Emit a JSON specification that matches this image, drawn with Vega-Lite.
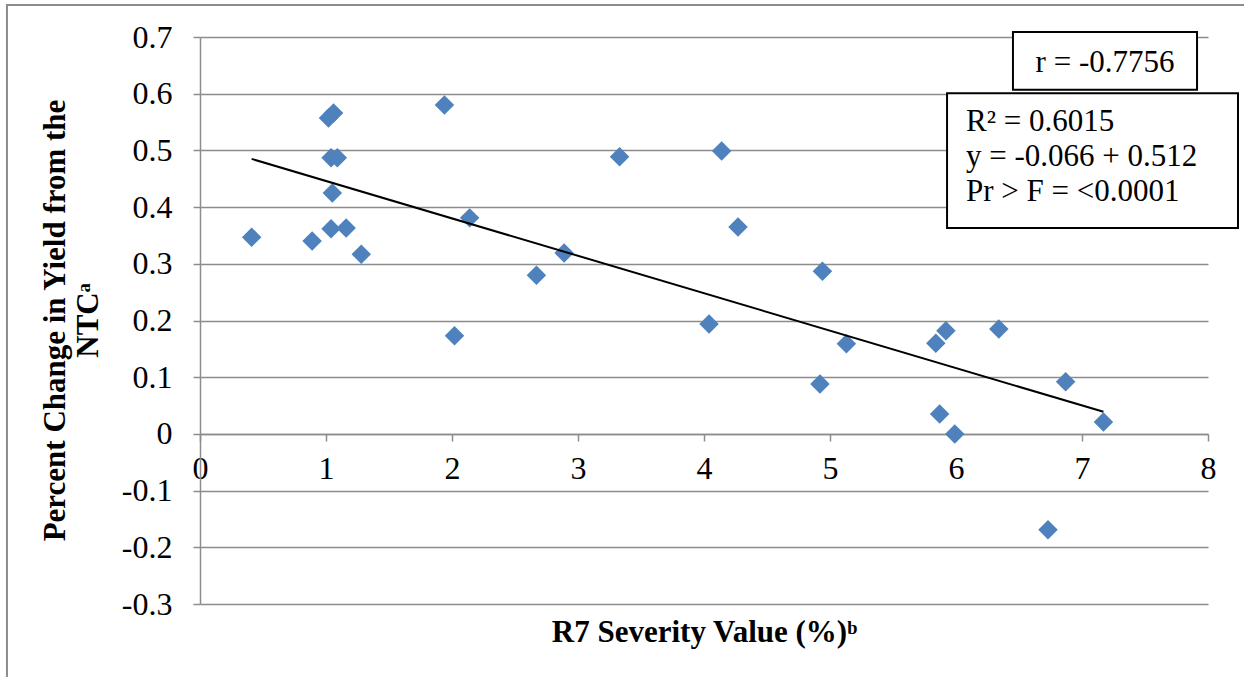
{
  "$schema": "https://vega.github.io/schema/vega-lite/v6.json",
  "width": 1008,
  "height": 567,
  "autosize": "none",
  "padding": {"left": 200, "top": 37, "right": 36, "bottom": 73},
  "background": "white",
  "config": {"view": {"stroke": null}, "font": "Liberation Serif"},
  "datasets": {
    "points": [
      {"severity": 0.41, "change": 0.347},
      {"severity": 0.89, "change": 0.340},
      {"severity": 1.02, "change": 0.557},
      {"severity": 1.06, "change": 0.566},
      {"severity": 1.04, "change": 0.487},
      {"severity": 1.09, "change": 0.487},
      {"severity": 1.05, "change": 0.425},
      {"severity": 1.04, "change": 0.362},
      {"severity": 1.16, "change": 0.363},
      {"severity": 1.28, "change": 0.317},
      {"severity": 1.94, "change": 0.580},
      {"severity": 2.02, "change": 0.173},
      {"severity": 2.14, "change": 0.381},
      {"severity": 2.67, "change": 0.280},
      {"severity": 2.89, "change": 0.319},
      {"severity": 3.33, "change": 0.489},
      {"severity": 4.04, "change": 0.194},
      {"severity": 4.14, "change": 0.499},
      {"severity": 4.27, "change": 0.365},
      {"severity": 4.94, "change": 0.287},
      {"severity": 4.92, "change": 0.088},
      {"severity": 5.13, "change": 0.159},
      {"severity": 5.84, "change": 0.160},
      {"severity": 5.92, "change": 0.182},
      {"severity": 5.87, "change": 0.035},
      {"severity": 5.99, "change": 0.000},
      {"severity": 6.34, "change": 0.185},
      {"severity": 6.87, "change": 0.092},
      {"severity": 6.73, "change": -0.169},
      {"severity": 7.17, "change": 0.021}
    ],
    "trend": [
      {"severity": 0.41, "change": 0.485},
      {"severity": 7.17, "change": 0.039}
    ],
    "rbox": [{"label": "r = -0.7756"}],
    "statbox": [{"label": ["R² = 0.6015", "y = -0.066 + 0.512", "Pr > F = <0.0001"]}],
    "frame": [{"name": "frame"}]
  },
  "layer": [
    {
      "data": {"name": "points"},
      "mark": {"type": "point", "shape": "diamond", "filled": true, "color": "#4F81BD", "size": 380, "opacity": 1},
      "encoding": {
        "x": {
          "field": "severity",
          "type": "quantitative",
          "scale": {"domain": [0, 8], "nice": false, "zero": false},
          "axis": {
            "values": [0, 1, 2, 3, 4, 5, 6, 7, 8],
            "format": "d",
            "offset": -170,
            "grid": false,
            "domainColor": "#8c8c8c",
            "domainWidth": 1.5,
            "tickColor": "#8c8c8c",
            "tickWidth": 1.5,
            "tickSize": 7,
            "labelFont": "Liberation Serif",
            "labelFontSize": 32,
            "labelColor": "black",
            "labelPadding": 12,
            "labelFlush": false,
            "labelOverlap": false,
            "title": "R7 Severity Value (%)ᵇ",
            "titleFont": "Liberation Serif",
            "titleFontSize": 31,
            "titleFontWeight": "bold",
            "titleColor": "black",
            "titleY": 198,
            "titleBaseline": "middle"
          }
        },
        "y": {
          "field": "change",
          "type": "quantitative",
          "scale": {"domain": [-0.3, 0.7], "nice": false, "zero": false},
          "axis": {
            "values": [-0.3, -0.2, -0.1, 0, 0.1, 0.2, 0.3, 0.4, 0.5, 0.6, 0.7],
            "format": ".1~f",
            "labelExpr": "replace(datum.label, '−', '-')",
            "grid": true,
            "gridColor": "#8c8c8c",
            "gridWidth": 1.5,
            "domainColor": "#8c8c8c",
            "domainWidth": 1.5,
            "tickColor": "#8c8c8c",
            "tickWidth": 1.5,
            "tickSize": 7,
            "labelFont": "Liberation Serif",
            "labelFontSize": 32,
            "labelColor": "black",
            "labelPadding": 21,
            "labelOverlap": false,
            "title": ["Percent Change in Yield from the", "NTCᵃ"],
            "titleFont": "Liberation Serif",
            "titleFontSize": 31,
            "titleFontWeight": "bold",
            "titleColor": "black",
            "titleLineHeight": 33,
            "titleX": -145,
            "titleY": 283,
            "titleBaseline": "middle",
            "titleAngle": -90
          }
        }
      }
    },
    {
      "data": {"name": "frame"},
      "mark": {"type": "rect", "fill": null, "stroke": "#8c8c8c", "strokeWidth": 2},
      "encoding": {
        "x": {"datum": -1.532},
        "x2": {"datum": 8.6},
        "y": {"datum": 0.7566},
        "y2": {"datum": -0.5}
      }
    },
    {
      "data": {"name": "trend"},
      "mark": {"type": "line", "color": "black", "strokeWidth": 2},
      "encoding": {
        "x": {"field": "severity", "type": "quantitative"},
        "y": {"field": "change", "type": "quantitative"}
      }
    },
    {
      "data": {"name": "rbox"},
      "mark": {"type": "rect", "fill": "white", "stroke": "black", "strokeWidth": 2},
      "encoding": {
        "x": {"datum": 6.452},
        "x2": {"datum": 7.913},
        "y": {"datum": 0.709},
        "y2": {"datum": 0.607}
      }
    },
    {
      "data": {"name": "statbox"},
      "mark": {"type": "rect", "fill": "white", "stroke": "black", "strokeWidth": 2},
      "encoding": {
        "x": {"datum": 5.929},
        "x2": {"datum": 8.238},
        "y": {"datum": 0.601},
        "y2": {"datum": 0.363}
      }
    },
    {
      "data": {"name": "rbox"},
      "mark": {"type": "text", "font": "Liberation Serif", "fontSize": 31, "color": "black", "align": "center", "baseline": "middle"},
      "encoding": {
        "x": {"datum": 7.183},
        "y": {"datum": 0.654},
        "text": {"field": "label"}
      }
    },
    {
      "data": {"name": "statbox"},
      "mark": {"type": "text", "font": "Liberation Serif", "fontSize": 31, "color": "black", "align": "left", "baseline": "middle", "lineHeight": 35},
      "encoding": {
        "x": {"datum": 6.079},
        "y": {"datum": 0.5503},
        "text": {"field": "label"}
      }
    }
  ]
}
